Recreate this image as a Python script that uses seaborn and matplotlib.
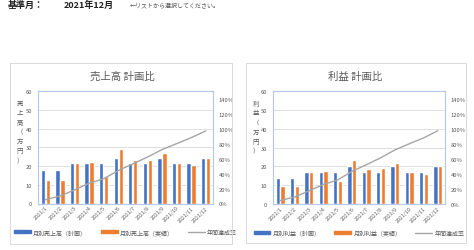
import numpy as np
import pandas as pd
import matplotlib
matplotlib.use("Agg")
import matplotlib.pyplot as plt
from matplotlib.patches import Rectangle
from matplotlib.lines import Line2D
import seaborn as sns

# =========================
# データ
# =========================
months = ["2021/1", "2021/2", "2021/3", "2021/4", "2021/5", "2021/6",
          "2021/7", "2021/8", "2021/9", "2021/10", "2021/11", "2021/12"]

sales_plan = [18, 18, 21.6, 21.6, 21.6, 24.5, 21.6, 21.6, 24.5, 21.6, 21.6, 24.5]
sales_actual = [12.5, 12.5, 21.6, 22.3, 14.5, 28.9, 23.4, 23.2, 26.8, 21.6, 20.7, 24.5]
sales_rate = [0.05, 0.10, 0.18, 0.27, 0.33, 0.44, 0.53, 0.62, 0.72, 0.80, 0.88, 0.97]

profit_plan = [14, 14, 17, 17, 17, 20, 17, 17, 20, 17, 17, 20]
profit_actual = [9.7, 9.4, 16.9, 17.6, 12.4, 23.6, 18.5, 19.1, 21.7, 16.9, 16.1, 20]
profit_rate = [0.047, 0.092, 0.174, 0.259, 0.319, 0.433, 0.522, 0.614, 0.719, 0.801, 0.879, 0.975]

sns.set_theme(style="white")
plt.rcParams['font.family'] = ['Noto Sans CJK JP', 'DejaVu Sans']

BLUE = "#4472C4"
ORANGE = "#ED7D31"
GRAY = "#A5A5A5"
TXT = "#595959"

W, H = 474, 251
fig = plt.figure(figsize=(W / 100, H / 100), dpi=100)
fig.patch.set_facecolor("white")


def px(x, y):
    return x / W, 1 - y / H


# =========================
# ヘッダー
# =========================
fig.text(*px(8, 5), "基準月：", fontsize=6.5, fontweight="bold", color="#222222", va="center")
fig.text(*px(64, 5), "2021年12月", fontsize=6.5, fontweight="bold", color="#222222", va="center")
fig.text(*px(130, 5), "←リストから選択してください。", fontsize=4.3, color="#555555", va="center")


def draw_chart(box, ax_rect, title, title_x, ylabel, ylabel_x, plan, actual, rate, names):
    # 外枠
    bx0, by0, bx1, by1 = box
    fig.patches.append(Rectangle(px(bx0, by1), (bx1 - bx0) / W, (by1 - by0) / H,
                                 transform=fig.transFigure, fill=False,
                                 edgecolor="#d9d9d9", linewidth=0.7))
    fig.text(*px(title_x, 77), title, fontsize=7.5, color=TXT, ha="center", va="center")
    fig.text(*px(ylabel_x, 100), ylabel, fontsize=4.6, color=TXT, ha="center", va="top",
             linespacing=1.25)

    l, t, r, b = ax_rect
    ax = fig.add_axes([l / W, 1 - b / H, (r - l) / W, (b - t) / H])
    df = pd.DataFrame({
        "month": months * 2,
        "value": plan + actual,
        "kind": [names[0]] * 12 + [names[1]] * 12,
    })
    sns.barplot(data=df, x="month", y="value", hue="kind", ax=ax,
                palette=[BLUE, ORANGE], width=0.68, gap=0.12,
                saturation=1, legend=False)
    ax.set_ylim(0, 60)
    ax.set_xlim(-0.5, 11.5)
    ax.set_yticks(range(0, 61, 10))
    ax.set_xlabel("")
    ax.set_ylabel("")
    ax.yaxis.grid(True, color="#d9d9d9", linewidth=0.6)
    ax.set_axisbelow(True)
    ax.tick_params(axis="y", labelsize=4.2, colors=TXT, length=0, pad=4)
    ax.tick_params(axis="x", labelsize=3.8, colors=TXT, length=0, pad=1)
    plt.setp(ax.get_xticklabels(), rotation=45, ha="right", rotation_mode="anchor")
    for s in ax.spines.values():
        s.set_color("#b4c7e7")
        s.set_linewidth(0.8)

    ax2 = ax.twinx()
    sns.lineplot(x=np.arange(12), y=rate, ax=ax2, color=GRAY, linewidth=1.0)
    ax2.set_ylim(0, 1.5)
    ax2.set_yticks(np.arange(0, 1.41, 0.2))
    ax2.set_yticklabels([f"{int(round(v * 100))}%" for v in np.arange(0, 1.41, 0.2)])
    ax2.tick_params(axis="y", labelsize=4.2, colors=TXT, length=0, pad=4)
    ax2.grid(False)
    for s in ax2.spines.values():
        s.set_visible(False)

    handles = [
        Rectangle((0, 0), 1, 1, color=BLUE),
        Rectangle((0, 0), 1, 1, color=ORANGE),
        Line2D([0], [0], color=GRAY, linewidth=1.0),
    ]
    ax.legend(handles, [names[0], names[1], "年間達成率"], loc="center",
              bbox_to_anchor=(0.5, -0.255), ncol=3, frameon=False,
              fontsize=4.3, handlelength=2.8, handleheight=0.3,
              columnspacing=2.3, handletextpad=0.4, labelcolor=TXT,
              borderpad=0, borderaxespad=0)


draw_chart((10, 64, 232, 245), (38, 92.3, 213, 204.5), "売上高 計画比", 122,
           "売\n上\n高\n（\n万\n円\n）", 20,
           sales_plan, sales_actual, sales_rate,
           ["月別売上高（計画）", "月別売上高（実績）"])

draw_chart((246, 64, 466, 244), (273, 92.3, 445, 205), "利益 計画比", 355,
           "利\n益\n（\n万\n円\n）", 256,
           profit_plan, profit_actual, profit_rate,
           ["月別利益（計画）", "月別利益（実績）"])

fig.savefig("out.png", dpi=100, facecolor="white")
